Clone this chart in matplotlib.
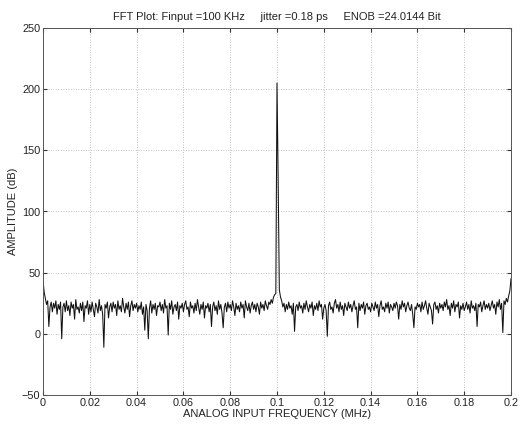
import numpy as np
import matplotlib
matplotlib.use("Agg")
import matplotlib.pyplot as plt

plt.rcParams['font.family'] = ['Liberation Sans', 'DejaVu Sans']

# Frequency bin spacing (MHz) and spectrum values (dB)
bin_step = 0.0005
noise_low = [
    44, 34, 29, 24, 27, 6, 22, 26, 18, 25, 21, 27, 16, 24, 20, 26, -4, 22, 25, 18,
    27, 19, 23, 15, 26, 21, 24, 12, 28, 20, 22, 17, 25, 19, 26, 10, 23, 21, 27, 16,
    24, 18, 26, 20, 14, 25, 22, 17, 28, 19, 23, 16, -11, 24, 21, 26, 13, 22, 25, 18,
    26, 21, 24, 15, 27, 20, 23, 18, 29, 22, 17, 25, 20, 26, 14, 23, 27, 19, 24, 21,
    25, 18, 23, 20, 26, 16, 22, 3, 24, 19, -4, 21, 27, 17, 24, 20, 25, 15, 23, 22,
    26, 19, 24, 17, 28, 21, 23, -1, 25, 20, 27, 16, 22, 24, 19, 26, 12, 23, 21, 25,
    18, 24, 27, 20, 22, 14, 26, 21, 23, 17, 25, 19, 28, 22, 16, 24, 20, 26, 13, 23,
    21, 25, 18, 24, 6, 22, 26, 19, 23, 16, 27, 20, 24, 17, 5, 22, 25, 18, 26, 21,
    24, 19, 27, 22, 15, 25, 20, 23, 18, 26, 21, 24, 13, 27, 22, 19, 25, 17, 23, 26,
    20, 24, 18, 25, 22, 16, 26, 21, 24, 19, 27, 23, 20, 26, 24, 28, 25, 30, 32, 33,
]
peak_value = [205]
noise_high = [
    125, 36, 30, 27, 22, 25, 18, 24, 20, 26, 21, 23, 16, 25, 2, 22, 24, 19, 26, 21,
    23, 17, 25, 20, 27, 22, 18, 24, 21, 26, 15, 23, 20, 25, 19, 27, 22, 24, 12, 21,
    24, 19, -2, 23, 26, 20, 22, 17, 25, 28, 21, 24, 18, 26, 20, 23, 15, 25, 22, 19,
    26, 21, 24, 18, 23, 27, 20, 22, 5, 25, 19, 24, 21, 26, 16, 23, 25, 20, 22, 18,
    25, 22, 19, 26, 21, 24, 14, 23, 27, 20, 22, 18, 25, 21, 26, 17, 24, 22, 19, 25,
    21, 26, 23, 12, 24, 20, 27, 22, 25, 18, 23, 26, 21, 19, 24, 16, 5, 22, 20, 25,
    22, 24, 18, 26, 20, 23, 27, 21, 16, 25, 22, 19, 8, 24, 26, 20, 23, 17, 25, 21,
    24, 19, 26, 22, 28, 20, 23, 15, 25, 21, 27, 18, 24, 22, 26, 13, 23, 20, 25, 19,
    22, 26, 20, 24, 17, 27, 21, 23, 19, 25, 6, 24, 22, 26, 18, 23, 27, 20, 24, 21,
    25, 19, 23, 27, 21, 24, 16, 26, 22, 28, 20, 25, 1, 27, 24, 29, 26, 31, 35, 45,
]

x_ticks = [0, 0.02, 0.04, 0.06, 0.08, 0.1, 0.12, 0.14, 0.16, 0.18, 0.2]
x_tick_labels = ['0', '0.02', '0.04', '0.06', '0.08', '0.1', '0.12', '0.14', '0.16', '0.18', '0.2']
y_ticks = [-50, 0, 50, 100, 150, 200, 250]

title_text = "FFT Plot: Finput =100 KHz     jitter =0.18 ps     ENOB =24.0144 Bit"
x_label = "ANALOG INPUT FREQUENCY (MHz)"
y_label = "AMPLITUDE (dB)"

amplitude = np.array(noise_low + peak_value + noise_high, dtype=float)
freq = np.arange(len(amplitude)) * bin_step

fig = plt.figure(figsize=(5.21, 4.29), dpi=100)
ax = fig.add_axes([43/521, 34/429, 468/521, 367/429])

ax.plot(freq, amplitude, color='#111111', linewidth=0.75)

ax.set_xlim(0, 0.2)
ax.set_ylim(-50, 250)
ax.set_xticks(x_ticks)
ax.set_xticklabels(x_tick_labels)
ax.set_yticks(y_ticks)

ax.grid(True, color='#b0b0b0', linestyle=(0, (1, 2)), linewidth=0.6)
ax.tick_params(axis='both', direction='in', length=3, labelsize=7.8,
               top=True, right=True, colors='#333333', labelcolor='#222222', pad=2)
for s in ax.spines.values():
    s.set_color('#555555')
    s.set_linewidth(0.7)

ax.set_title(title_text, fontsize=8, color='#222222', pad=6)
ax.set_xlabel(x_label, fontsize=8, color='#222222', labelpad=1)
ax.set_ylabel(y_label, fontsize=8, color='#222222', labelpad=3)

fig.savefig("out.png", dpi=100)
